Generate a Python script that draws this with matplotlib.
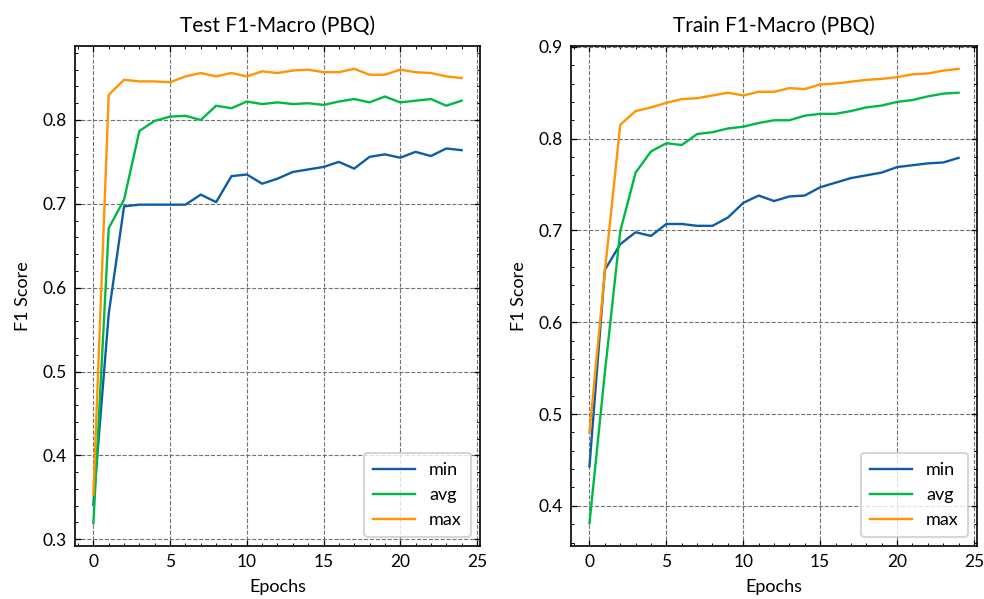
import numpy as np
import matplotlib
matplotlib.use("Agg")
import matplotlib.pyplot as plt
from matplotlib.ticker import AutoMinorLocator

plt.rcParams['font.family'] = ['Lato', 'DejaVu Sans']

epochs = np.arange(25)

# test scores (left panel)
test_min = [0.341, 0.569, 0.697, 0.699, 0.699, 0.699, 0.699, 0.711, 0.702, 0.733,
            0.735, 0.724, 0.730, 0.738, 0.741, 0.744, 0.750, 0.742, 0.756, 0.759,
            0.755, 0.762, 0.757, 0.766, 0.764]
test_avg = [0.319, 0.671, 0.705, 0.787, 0.799, 0.804, 0.805, 0.800, 0.817, 0.814,
            0.822, 0.819, 0.821, 0.819, 0.820, 0.818, 0.822, 0.825, 0.821, 0.828,
            0.821, 0.823, 0.825, 0.817, 0.823]
test_max = [0.353, 0.830, 0.848, 0.846, 0.846, 0.845, 0.852, 0.856, 0.852, 0.856,
            0.852, 0.858, 0.856, 0.859, 0.860, 0.857, 0.857, 0.861, 0.854, 0.854,
            0.860, 0.857, 0.856, 0.852, 0.850]

# train scores (right panel)
train_min = [0.443, 0.657, 0.685, 0.698, 0.694, 0.707, 0.707, 0.705, 0.705, 0.714,
             0.730, 0.738, 0.732, 0.737, 0.738, 0.747, 0.752, 0.757, 0.760, 0.763,
             0.769, 0.771, 0.773, 0.774, 0.779]
train_avg = [0.381, 0.545, 0.699, 0.763, 0.786, 0.795, 0.793, 0.805, 0.807, 0.811,
             0.813, 0.817, 0.820, 0.820, 0.825, 0.827, 0.827, 0.830, 0.834, 0.836,
             0.840, 0.842, 0.846, 0.849, 0.850]
train_max = [0.480, 0.655, 0.815, 0.830, 0.834, 0.839, 0.843, 0.844, 0.847, 0.850,
             0.847, 0.851, 0.851, 0.855, 0.854, 0.859, 0.860, 0.862, 0.864, 0.865,
             0.867, 0.870, 0.871, 0.874, 0.876]

colors = ['#0C5DA5', '#00B945', '#FF9500']

fig = plt.figure(figsize=(9.84, 5.99), dpi=100)
ax1 = fig.add_axes([0.0762, 0.0885, 0.4116, 0.8345])
ax2 = fig.add_axes([0.5803, 0.0885, 0.4126, 0.8345])

panels = [(ax1, "Test F1-Macro (PBQ)", [test_min, test_avg, test_max]),
          (ax2, "Train F1-Macro (PBQ)", [train_min, train_avg, train_max])]

for ax, title, series in panels:
    for vals, name, c in zip(series, ['min', 'avg', 'max'], colors):
        ax.plot(epochs, vals, color=c, lw=1.7, label=name)
    ax.set_title(title, fontsize=15, pad=10)
    ax.set_xlabel("Epochs", fontsize=13, labelpad=6)
    ax.set_ylabel("F1 Score", fontsize=13, labelpad=8)
    ax.xaxis.set_minor_locator(AutoMinorLocator(5))
    ax.yaxis.set_minor_locator(AutoMinorLocator(5))
    ax.tick_params(which='both', direction='in', top=True, right=True, labelsize=12.5)
    ax.tick_params(which='major', length=4.5, width=0.9, pad=6)
    ax.tick_params(which='minor', length=2.2, width=0.7)
    ax.grid(True, linestyle='--', color='0.45', lw=0.8)
    for s in ax.spines.values():
        s.set_linewidth(1.2)
    leg = ax.legend(loc='lower right', fontsize=13, frameon=True, fancybox=True,
                    handlelength=2.3, borderpad=0.5, labelspacing=0.5)
    leg.get_frame().set_edgecolor('0.8')
    leg.get_frame().set_linewidth(1.5)

fig.savefig("out.png", dpi=100)
